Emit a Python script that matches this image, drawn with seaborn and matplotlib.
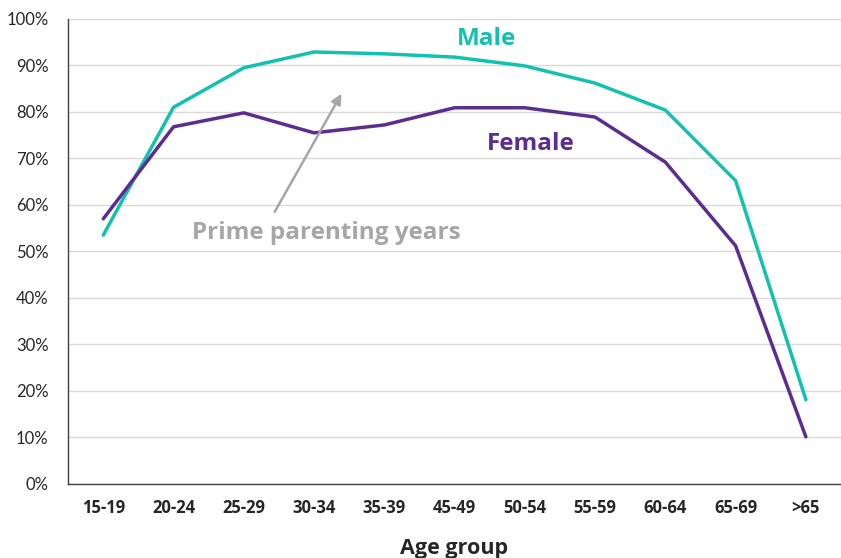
import matplotlib
matplotlib.use("Agg")
import matplotlib.pyplot as plt
import pandas as pd
import seaborn as sns
from matplotlib.ticker import FixedLocator, PercentFormatter

age_groups = ["15-19", "20-24", "25-29", "30-34", "35-39", "45-49",
              "50-54", "55-59", "60-64", "65-69", ">65"]
male = [53.5, 81.0, 89.5, 92.9, 92.5, 91.8, 89.9, 86.2, 80.4, 65.2, 18.1]
female = [57.0, 76.8, 79.8, 75.5, 77.2, 80.9, 80.9, 78.9, 69.2, 51.2, 10.1]

teal = "#12C2B0"
purple = "#5C2D91"
grey = "#A6A6A6"

df = pd.DataFrame({
    "age": age_groups * 2,
    "rate": male + female,
    "sex": ["Male"] * len(male) + ["Female"] * len(female),
})

sns.set_style("white")
plt.rcParams["font.family"] = ["Lato", "DejaVu Sans"]
bold_font = ["Open Sans", "DejaVu Sans"]

fig = plt.figure(figsize=(8.41, 5.58), dpi=100)
ax = fig.add_axes([0.081, 0.133, 0.919, 0.833])

sns.lineplot(data=df, x="age", y="rate", hue="sex",
             palette={"Male": teal, "Female": purple},
             linewidth=2.5, legend=False, ax=ax, sort=False)

ax.set_xlim(-0.5, len(age_groups) - 0.5)
ax.set_ylim(0, 100)
ax.set_yticks(range(0, 101, 10))
ax.yaxis.set_major_formatter(PercentFormatter(decimals=0))
ax.grid(axis="y", color="#D9D9D9", linewidth=1)
ax.set_axisbelow(True)

ax.set_xticks(range(len(age_groups)))
ax.set_xticklabels(age_groups, fontweight="bold", fontsize=12, family=bold_font)
ax.xaxis.set_minor_locator(FixedLocator([i - 0.5 for i in range(len(age_groups) + 1)]))
ax.tick_params(axis="x", which="major", length=0, pad=11)
ax.tick_params(axis="x", which="minor", length=6, width=1, color="#404040", direction="out")
ax.tick_params(axis="y", length=0, labelsize=12, pad=14)

for s in ["top", "right"]:
    ax.spines[s].set_visible(False)
for s in ["left", "bottom"]:
    ax.spines[s].set_color("#404040")
    ax.spines[s].set_linewidth(1)

ax.set_xlabel("Age group", fontweight="bold", fontsize=15.5, labelpad=15, family=bold_font)
ax.set_ylabel("")

ax.text(5.46, 95.6, "Male", color=teal, fontsize=17.5, fontweight="bold",
        ha="center", va="center", family=bold_font)
ax.text(6.08, 73.0, "Female", color=purple, fontsize=17.5, fontweight="bold",
        ha="center", va="center", family=bold_font)
ax.text(3.17, 54.0, "Prime parenting years", color=grey, fontsize=17.5,
        fontweight="bold", ha="center", va="center", family=bold_font)
ax.annotate("", xy=(3.39, 83.9), xytext=(2.44, 58.5),
            arrowprops=dict(arrowstyle="-|>", color=grey, lw=1.8,
                            shrinkA=0, shrinkB=0, mutation_scale=15))

fig.savefig("out.png", dpi=100)
